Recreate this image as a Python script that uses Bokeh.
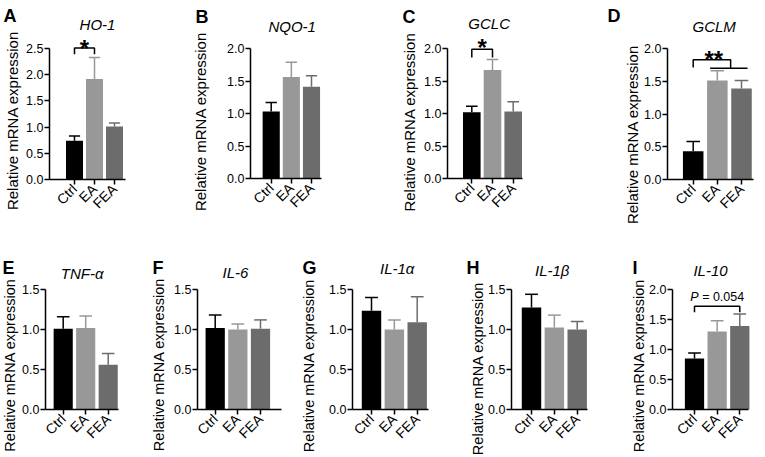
import math
from bokeh.plotting import figure
from bokeh.layouts import row, column
from bokeh.models import FixedTicker, PrintfTickFormatter, Range1d
from bokeh.embed import file_html
from bokeh.resources import INLINE
from bokeh.core.properties import value

# ---------------- data ----------------
groups = ["Ctrl", "EA", "FEA"]
letters = ["A", "B", "C", "D", "E", "F", "G", "H", "I"]
genes = ["HO-1", "NQO-1", "GCLC", "GCLM", "TNF-α", "IL-6", "IL-1α", "IL-1β", "IL-10"]
y_max = [2.5, 2.0, 2.0, 2.0, 1.5, 1.5, 1.5, 1.5, 2.0]

ho1_mean = [0.74, 1.92, 1.01]
ho1_sem = [0.09, 0.41, 0.07]
nqo1_mean = [1.03, 1.56, 1.41]
nqo1_sem = [0.14, 0.23, 0.17]
gclc_mean = [1.02, 1.67, 1.03]
gclc_sem = [0.09, 0.16, 0.15]
gclm_mean = [0.43, 1.51, 1.39]
gclm_sem = [0.15, 0.15, 0.12]
tnfa_mean = [1.01, 1.02, 0.56]
tnfa_sem = [0.15, 0.15, 0.14]
il6_mean = [1.02, 1.00, 1.01]
il6_sem = [0.16, 0.07, 0.11]
il1a_mean = [1.235, 1.00, 1.09]
il1a_sem = [0.165, 0.12, 0.32]
il1b_mean = [1.275, 1.025, 1.00]
il1b_sem = [0.165, 0.155, 0.10]
il10_mean = [0.85, 1.30, 1.39]
il10_sem = [0.09, 0.18, 0.20]

# significance brackets: line paths (group index, value) + label position (group index, value)
sig_ho1 = dict(paths=[([0, 0, 1, 1], [2.39, 2.51, 2.51, 2.39])], text="*", tx=0.5, ty=2.595)
sig_gclc = dict(paths=[([0, 0, 1, 1], [1.86, 1.99, 1.99, 1.86])], text="*", tx=0.5, ty=2.10)
sig_gclm = dict(paths=[([0, 0, 1.55, 1.55], [1.71, 1.83, 1.83, 1.70]),
                       ([0.7, 2.25], [1.70, 1.70])], text="**", tx=0.85, ty=1.91)
sig_il10 = dict(paths=[([0, 0, 2, 2], [1.62, 1.72, 1.72, 1.62])], text="= 0.054", tx=1.0, ty=1.87)

means = [ho1_mean, nqo1_mean, gclc_mean, gclm_mean, tnfa_mean, il6_mean, il1a_mean, il1b_mean, il10_mean]
sems = [ho1_sem, nqo1_sem, gclc_sem, gclm_sem, tnfa_sem, il6_sem, il1a_sem, il1b_sem, il10_sem]
sigs = [sig_ho1, None, sig_gclc, sig_gclm, None, None, None, None, sig_il10]

# ---------------- layout (canvas pixels) ----------------
FONT = "Liberation Sans"
COLORS = ["#000000", "#989898", "#6c6c6c"]
ROWS = [(0, 228), (228, 457)]  # figure top, figure bottom
# fx0, fx1, axis left, axis right, ctrl center, fea center, y0 px, ytop px,
# ylabel center (x, y), letter (left x, center y), title center (x, y), row
SPEC = [
    (0, 190, 49, 125, 74.0, 114.0, 179, 48, (12, 120), (3, 15), (97, 24.3), 0),
    (190, 380, 250, 321, 270.7, 311.0, 178, 48, (200, 121), (195, 16), (291.7, 25.5), 0),
    (380, 570, 447, 522, 471.3, 512.7, 178, 48, (409, 121.5), (402, 16), (488.7, 23), 0),
    (570, 765, 667, 753, 692.7, 741.0, 179, 48, (632, 134), (607, 15.5), (713.7, 26), 0),
    (0, 150, 45, 118, 62.7, 107.7, 409, 289, (9, 364.5), (2, 267.5), (81.7, 273), 1),
    (150, 300, 197, 281, 214.7, 260.0, 409, 289, (158, 364), (152, 267.5), (235, 271.7), 1),
    (300, 450, 352, 428, 371.0, 416.7, 409, 289, (308, 365), (302, 267.5), (396.7, 268), 1),
    (450, 600, 511, 587, 531.0, 576.7, 409, 289, (477, 368), (466, 267.5), (551.7, 269.5), 1),
    (600, 765, 672, 748, 694.0, 739.3, 409, 289, (638, 365), (632, 267.5), (710, 270), 1),
]


def make_panel(k):
    fx0, fx1, fl, fr, c0, c2, y0, ytop, ylab, let, tit, r = SPEC[k]
    ry0, ry1 = ROWS[r]
    ymax = y_max[k]
    sp = (c2 - c0) / 2.0
    s = (y0 - ytop) / ymax

    def px2x(px):
        return (px - c0) / sp

    def py2y(py):
        return (y0 - py) / s

    p = figure(width=fx1 - fx0, height=ry1 - ry0,
               x_range=Range1d(px2x(fx0), px2x(fx1)),
               y_range=Range1d(py2y(ry1), py2y(ry0)),
               min_border=0, min_border_left=0, min_border_right=0,
               min_border_top=0, min_border_bottom=0,
               output_backend="svg", toolbar_location=None)
    p.title.visible = False
    p.outline_line_color = None
    p.xgrid.visible = False
    p.ygrid.visible = False
    p.background_fill_color = "white"
    p.border_fill_color = "white"

    xs = [0, 1, 2]
    m = means[k]
    e = sems[k]
    p.vbar(x=xs, top=m, width=0.85, bottom=0, fill_color=COLORS, line_color=None)
    tops = [a + b for a, b in zip(m, e)]
    p.segment(x0=xs, y0=m, x1=xs, y1=tops, line_color=COLORS, line_width=1.5)
    p.segment(x0=[x - 0.28 for x in xs], y0=tops, x1=[x + 0.28 for x in xs], y1=tops,
              line_color=COLORS, line_width=1.5)

    # axes, pinned at their data locations
    for ax in (p.xaxis[0], p.yaxis[0]):
        ax.axis_line_width = 1.5
        ax.axis_line_color = "black"
        ax.major_tick_line_width = 1.5
        ax.major_tick_line_color = "black"
        ax.major_tick_out = 5
        ax.major_tick_in = 0
        ax.minor_tick_line_color = None
        ax.major_label_text_font = FONT
        ax.major_label_text_color = "black"
    p.xaxis.fixed_location = 0
    p.xaxis.bounds = (px2x(fl), px2x(fr))
    p.xaxis.ticker = FixedTicker(ticks=xs)
    p.xaxis.major_label_overrides = {0: groups[0], 1: groups[1], 2: groups[2]}
    p.xaxis.major_label_orientation = math.pi / 4
    p.xaxis.major_label_text_font_size = "14px"
    p.xaxis.major_label_standoff = 2
    n = int(round(ymax / 0.5))
    p.yaxis.fixed_location = px2x(fl)
    p.yaxis.ticker = FixedTicker(ticks=[0.5 * i for i in range(n + 1)])
    p.yaxis.formatter = PrintfTickFormatter(format="%.1f")
    p.yaxis.bounds = (0, ymax)
    p.yaxis.major_label_text_font_size = "12.5px"
    p.yaxis.major_label_standoff = 1

    # title (gene)
    p.text(x=[px2x(tit[0])], y=[py2y(tit[1])], text=[genes[k]],
           text_font=value(FONT), text_font_style="italic", text_font_size="15px",
           text_align="center", text_baseline="middle", text_color="black")

    # y-axis title
    p.text(x=[px2x(ylab[0])], y=[py2y(ylab[1])], text=["Relative mRNA expression"],
           angle=math.pi / 2, text_font=value(FONT),
           text_font_size="15px" if r == 0 else "14.5px",
           text_align="center", text_baseline="middle", text_color="black")

    # panel letter
    p.text(x=[px2x(let[0])], y=[py2y(let[1])], text=[letters[k]],
           text_font=value(FONT), text_font_style="bold", text_font_size="18px",
           text_align="left", text_baseline="middle", text_color="black")

    # significance
    sg = sigs[k]
    if sg is not None:
        p.multi_line(xs=[pp[0] for pp in sg["paths"]], ys=[pp[1] for pp in sg["paths"]],
                     line_color="black", line_width=1.5)
        if sg["text"].startswith("*"):
            p.text(x=[sg["tx"]], y=[sg["ty"]], text=[sg["text"]], text_font=value(FONT),
                   text_font_style="bold", text_font_size="24px", text_align="center",
                   text_baseline="middle", y_offset=5, text_color="black")
        else:
            p.text(x=[sg["tx"]], y=[sg["ty"]], text=["P"], text_font=value(FONT),
                   text_font_style="italic", text_font_size="12.5px", text_align="right",
                   text_baseline="middle", x_offset=-18.5, text_color="black")
            p.text(x=[sg["tx"]], y=[sg["ty"]], text=[sg["text"]], text_font=value(FONT),
                   text_font_size="12.5px", text_align="left",
                   text_baseline="middle", x_offset=-15.0, text_color="black")
    return p


panels = [make_panel(k) for k in range(9)]
layout = column(row(*panels[:4]), row(*panels[4:]))
open("out.html", "w").write(file_html(layout, INLINE))
